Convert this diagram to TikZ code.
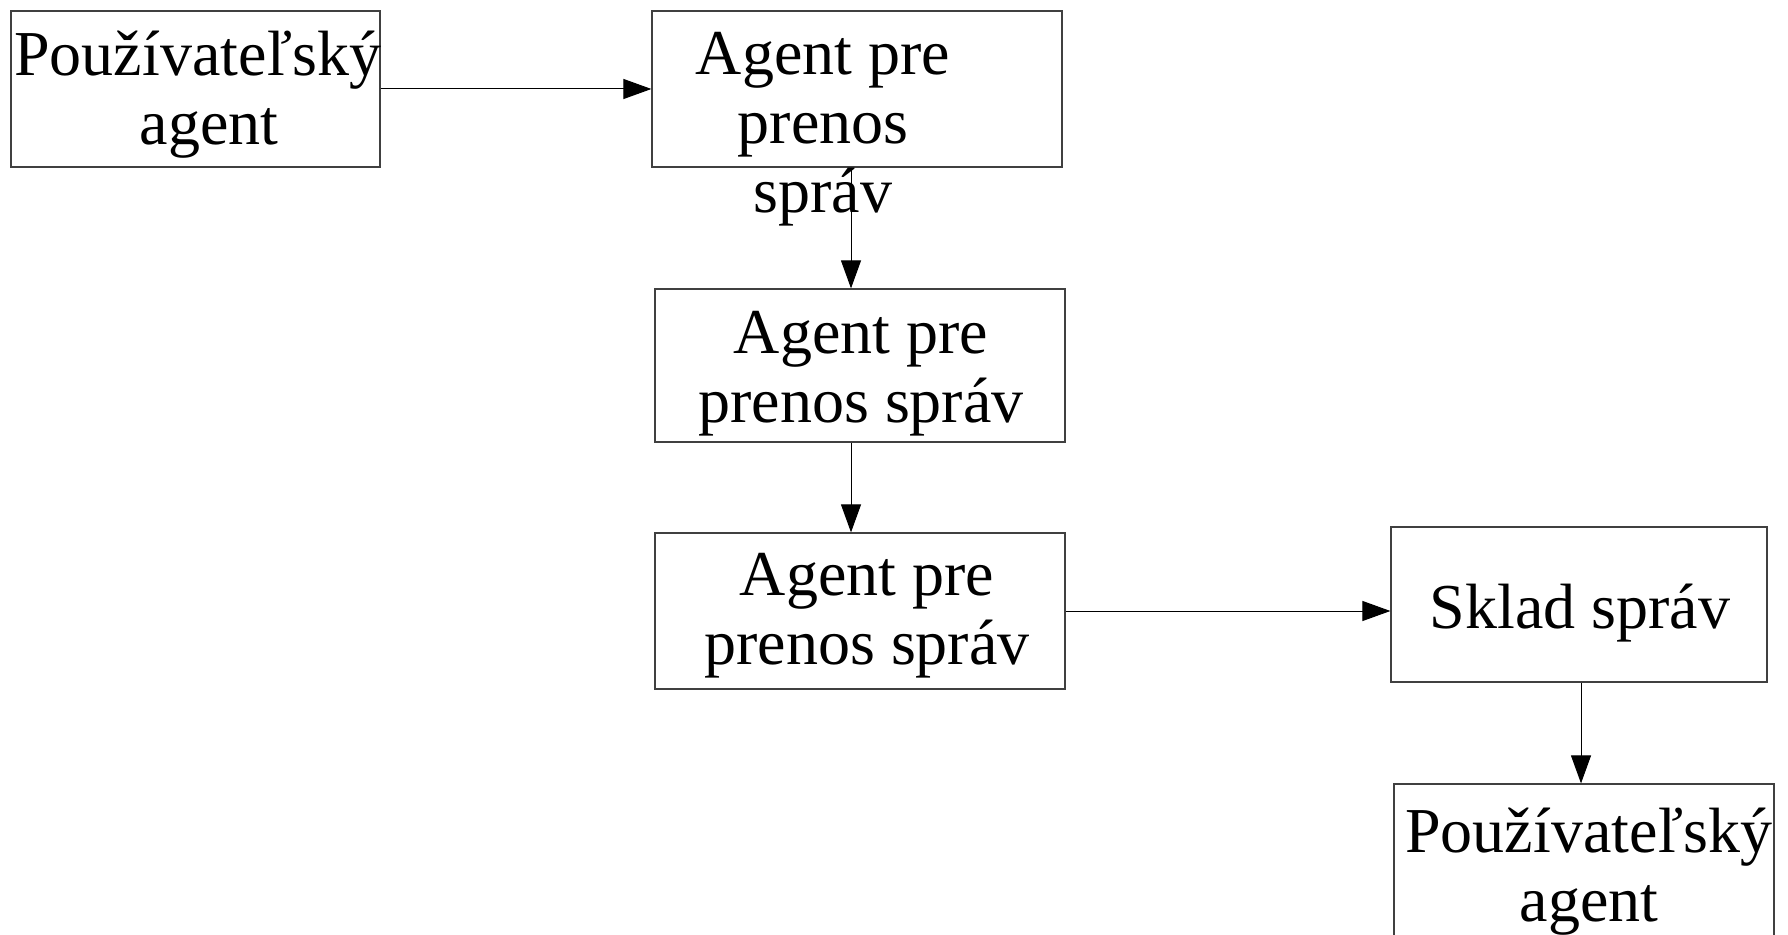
\documentclass[tikz,border=0pt]{standalone}
\usepackage{fontspec}
\setmainfont{Liberation Serif}
\usetikzlibrary{arrows.meta,positioning}

\begin{document}
\begin{tikzpicture}[x=0.5pt,y=-0.5pt,
    blok/.style={draw=black!75,line width=0.6pt,rectangle,inner sep=0pt},
    popis/.style={font=\fontsize{32}{34.5}\selectfont,align=center,
      inner sep=0pt,anchor=north},
    sipka/.style={-{Triangle[length=14pt,width=10pt]},line width=0.5pt}]
  \useasboundingbox (0,0) rectangle (1788,935);
  % bloky
  \node[blok,minimum width=184.5pt,minimum height=78pt] (ua1) at (195.5,89) {};
  \node[blok,minimum width=205pt,minimum height=78pt] (mta1) at (857,89) {};
  \node[blok,minimum width=205pt,minimum height=76.5pt] (mta2) at (860,365.5) {};
  \node[blok,minimum width=205pt,minimum height=78pt] (mta3) at (860,611) {};
  \node[blok,minimum width=188pt,minimum height=77.5pt] (ms) at (1579,604.5) {};
  \node[blok,minimum width=190pt,minimum height=78pt] (ua2) at (1584,862) {};
  % texty
  \node[popis] (ua1t) at (198,26.5) {\strut Používateľský\\ \hspace*{11pt}agent};
  \node[popis] (mta1t) at (823,25.5) {\strut Agent pre\\ prenos\\ správ};
  \node[popis] (mta2t) at (861,304.5) {\strut Agent pre\\ prenos správ};
  \node[popis] (mta3t) at (867,546.5) {\strut Agent pre\\ prenos správ};
  \node[popis] (mst) at (1580,579.5) {\strut Sklad správ};
  \node[popis] (ua2t) at (1589,803.5) {\strut Používateľský\\ agent};
  % sipky
  \draw[sipka] (ua1.east) -- (mta1.west);
  \draw[sipka] ([xshift=-3pt]mta1.south) -- ([xshift=-4.5pt]mta2.north);
  \draw[sipka] ([xshift=-4.5pt]mta2.south) -- ([xshift=-4.5pt]mta3.north);
  \draw[sipka] (mta3.east) -- (mta3.east -| ms.west);
  \draw[sipka] ([xshift=1pt]ms.south) -- ([xshift=1pt]ms.south |- ua2.north);
\end{tikzpicture}
\end{document}
